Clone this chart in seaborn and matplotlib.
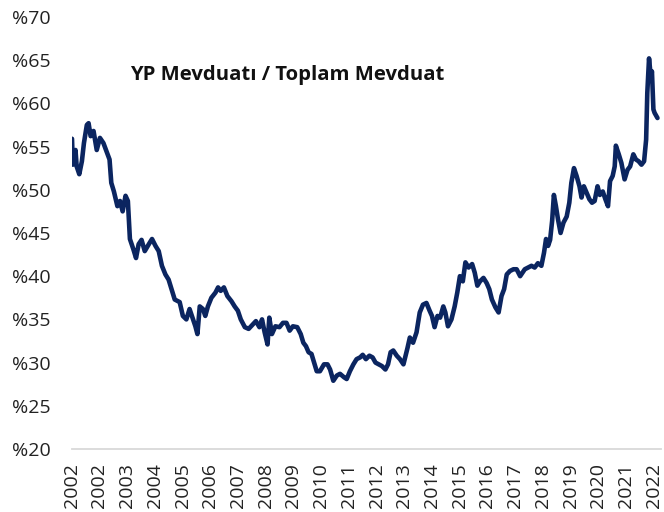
import matplotlib
matplotlib.use("Agg")
import matplotlib.pyplot as plt
import seaborn as sns
import pandas as pd

t_years = [
    0.01, 0.04, 0.13, 0.17, 0.26, 0.35, 0.42, 0.52, 0.58, 0.65, 0.75, 0.86, 0.97,
    1.09, 1.20, 1.30, 1.36, 1.45, 1.57, 1.66, 1.75, 1.85, 1.93, 2.00, 2.12, 2.21,
    2.30, 2.40, 2.51, 2.65, 2.76, 2.88, 2.99, 3.10, 3.22, 3.33, 3.45, 3.54, 3.71,
    3.82, 3.94, 4.05, 4.17, 4.25, 4.32, 4.40, 4.51, 4.59, 4.68, 4.80, 4.94, 5.03,
    5.12, 5.23, 5.35, 5.49, 5.60, 5.71, 5.81, 5.95, 6.08, 6.22, 6.33, 6.45, 6.54,
    6.63, 6.73, 6.79, 6.88, 7.00, 7.14, 7.26, 7.38, 7.49, 7.60, 7.75, 7.87, 7.96,
    8.05, 8.14, 8.24, 8.33, 8.42, 8.53, 8.67, 8.79, 8.88, 8.99, 9.11, 9.22, 9.36,
    9.45, 9.56, 9.68, 9.79, 9.91, 10.00, 10.11, 10.23, 10.34, 10.44, 10.55, 10.66,
    10.78, 10.87, 10.96, 11.05, 11.17, 11.28, 11.40, 11.54, 11.62, 11.73, 11.85,
    11.96, 12.07, 12.19, 12.30, 12.38, 12.47, 12.57, 12.66, 12.77, 12.84, 12.93,
    13.05, 13.16, 13.25, 13.34, 13.44, 13.53, 13.64, 13.76, 13.85, 13.94, 14.03,
    14.15, 14.26, 14.35, 14.44, 14.56, 14.67, 14.77, 14.86, 14.95, 15.06, 15.18,
    15.29, 15.41, 15.57, 15.80, 15.91, 16.02, 16.14, 16.23, 16.30, 16.37, 16.44,
    16.51, 16.57, 16.64, 16.71, 16.80, 16.90, 17.01, 17.10, 17.17, 17.26, 17.35,
    17.45, 17.52, 17.60, 17.70, 17.79, 17.88, 17.97, 18.07, 18.15, 18.25, 18.34,
    18.43, 18.50, 18.59, 18.66, 18.70, 18.80, 18.89, 19.00, 19.10, 19.19, 19.30,
    19.39, 19.48, 19.58, 19.67, 19.74, 19.78, 19.84, 19.90, 19.94, 19.99, 20.03,
    20.13,
]

# FX deposits / total deposits (%)
fx_share = [
    55.9, 52.9, 54.6, 52.7, 51.8, 53.3, 55.4, 57.5, 57.7, 56.2, 56.8, 54.6, 56.0,
    55.4, 54.4, 53.5, 50.8, 49.8, 48.1, 48.7, 47.5, 49.3, 48.7, 44.3, 43.1, 42.1,
    43.7, 44.2, 42.9, 43.7, 44.3, 43.5, 42.9, 41.2, 40.2, 39.6, 38.3, 37.3, 37.0,
    35.4, 35.0, 36.2, 35.0, 34.2, 33.3, 36.5, 36.2, 35.4, 36.5, 37.5, 38.1, 38.7,
    38.3, 38.7, 37.7, 37.1, 36.5, 36.0, 35.0, 34.1, 33.9, 34.4, 34.8, 34.1, 35.0,
    33.5, 32.1, 35.2, 33.3, 34.2, 34.1, 34.6, 34.6, 33.7, 34.2, 34.1, 33.3, 32.3,
    31.9, 31.2, 31.0, 30.0, 29.0, 29.0, 29.8, 29.8, 29.2, 27.9, 28.5, 28.7, 28.3,
    28.1, 29.0, 29.8, 30.4, 30.6, 30.9, 30.4, 30.8, 30.6, 30.0, 29.8, 29.6,
    29.2, 29.8, 31.2, 31.4, 30.8, 30.4, 29.8, 31.7, 32.9, 32.3, 33.5,
    35.8, 36.7, 36.9, 36.0, 35.4, 34.1, 35.4, 35.2, 36.5, 35.8, 34.2,
    35.0, 36.5, 38.1, 40.0, 39.4, 41.6, 41.0, 41.4, 40.4, 38.9, 39.4,
    39.8, 39.2, 38.5, 37.3, 36.4, 35.8, 37.7, 38.5, 40.2, 40.6, 40.8,
    40.8, 40.0, 40.8, 41.2, 41.0, 41.5, 41.2, 42.7, 44.3, 43.5, 44.2,
    46.4, 49.4, 48.1, 46.6, 45.0, 46.2, 46.9, 48.5, 50.8, 52.5, 51.6,
    50.4, 49.1, 50.4, 49.6, 48.9, 48.5, 48.7, 50.4, 49.4, 49.8, 48.9,
    48.1, 51.0, 51.6, 52.7, 55.1, 54.1, 53.1, 51.2, 52.3, 52.7, 54.1,
    53.5, 53.3, 52.9, 53.3, 55.8, 61.2, 65.2, 63.1, 63.7, 59.3, 58.9,
    58.3,
]

# category-style date axis labels (one label roughly every 350 days)
tick_labels = ["2002", "2002", "2003", "2004", "2005", "2006", "2007", "2008",
               "2009", "2010", "2011", "2012", "2013", "2014", "2015", "2016",
               "2017", "2018", "2019", "2020", "2021", "2022"]
y_ticks = [20, 25, 30, 35, 40, 45, 50, 55, 60, 65, 70]

sns.set_theme(style="white")
plt.rcParams['font.family'] = ['Open Sans', 'DejaVu Sans']

df = pd.DataFrame({'t': t_years, 'share': fx_share})

fig = plt.figure(figsize=(6.64, 5.12), dpi=100)
ax = fig.add_axes([0.108, 0.123, 0.887, 0.844])

sns.lineplot(data=df, x='t', y='share', ax=ax, color='#0b2560', linewidth=3.3)

tick_step = 20.0 / (len(tick_labels) - 1)
ax.set_xlim(0, 20.24)
ax.set_ylim(20, 70)
ax.set_xticks([i * tick_step for i in range(len(tick_labels))])
ax.set_xticklabels(tick_labels, rotation=90, fontsize=14, color='#222222')
ax.set_yticks(y_ticks)
ax.set_yticklabels([f'%{v}' for v in y_ticks], fontsize=14, color='#222222')
ax.tick_params(axis='x', length=0, pad=10)
ax.tick_params(axis='y', length=0, pad=15)
ax.set_xlabel('')
ax.set_ylabel('')

for side in ['top', 'right', 'left']:
    ax.spines[side].set_visible(False)
ax.spines['bottom'].set_color('#d9d9d9')
ax.spines['bottom'].set_linewidth(1.3)

ax.text(0.366, 0.866, 'YP Mevduatı / Toplam Mevduat', transform=ax.transAxes,
        ha='center', va='center', fontsize=14.6, fontweight='bold', color='#111111')

fig.savefig('out.png', dpi=100)
